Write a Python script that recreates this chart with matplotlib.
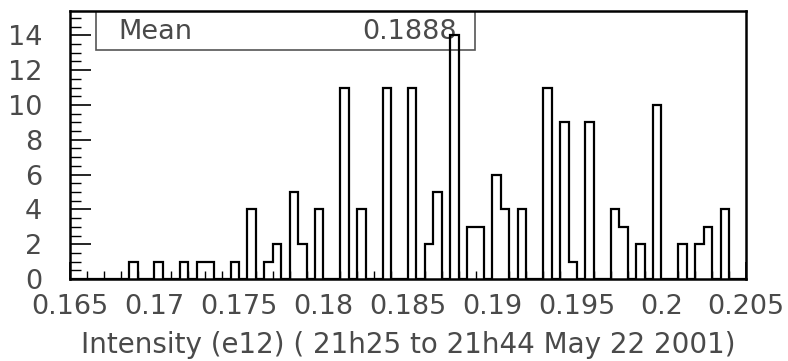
#histogram of beam intensity, ROOT style outline
import numpy as np
import matplotlib
matplotlib.use('Agg')
import matplotlib.pyplot as plt
from matplotlib.ticker import MultipleLocator, FixedLocator
from matplotlib.patches import Rectangle

x_min, x_max = 0.165, 0.205
n_bins = 80

#bin contents, 10 bins per row
counts = [0, 0, 0, 0, 0, 0, 0, 1, 0, 0,
          1, 0, 0, 1, 0, 1, 1, 0, 0, 1,
          0, 4, 0, 1, 2, 0, 5, 2, 0, 4,
          0, 0, 11, 0, 4, 0, 0, 11, 0, 0,
          11, 0, 2, 5, 0, 14, 0, 3, 3, 0,
          6, 4, 0, 4, 0, 0, 11, 0, 9, 1,
          0, 9, 0, 0, 4, 3, 0, 2, 0, 10,
          0, 0, 2, 0, 2, 3, 0, 4, 0, 0]

x_ticks = [0.165, 0.17, 0.175, 0.18, 0.185, 0.19, 0.195, 0.2, 0.205]
x_ticklabels = ['0.165', '0.17', '0.175', '0.18', '0.185', '0.19', '0.195', '0.2', '0.205']
y_ticks = [0, 2, 4, 6, 8, 10, 12, 14]
x_label = 'Intensity (e12) ( 21h25 to 21h44 May 22 2001)'
mean_text = '0.1888'

plt.rcParams['font.family'] = ['DejaVu Sans']
fs = 19.5
txt_col = '#4a4a4a'

edges = np.linspace(x_min, x_max, n_bins + 1)

fig = plt.figure(figsize=(7.88, 3.61), dpi=100)
ax = fig.add_axes([0.0888, 0.2271, 0.8579, 0.7424])

ax.stairs(counts, edges, color='black', linewidth=1.6, zorder=3)

ax.set_xlim(x_min, x_max)
ax.set_ylim(0, 15.4)

ax.xaxis.set_major_locator(FixedLocator(x_ticks))
ax.set_xticklabels(x_ticklabels)
ax.xaxis.set_minor_locator(MultipleLocator(0.001))
ax.yaxis.set_major_locator(FixedLocator(y_ticks))
ax.yaxis.set_minor_locator(MultipleLocator(0.5))

ax.tick_params(axis='both', which='both', direction='in', color='black', labelsize=fs, labelcolor=txt_col)
ax.tick_params(axis='x', which='major', length=12, width=1.2, pad=11)
ax.tick_params(axis='x', which='minor', length=6, width=1.0)
ax.tick_params(axis='y', which='major', length=15, width=1.2, pad=20)
ax.tick_params(axis='y', which='minor', length=8, width=1.0)
ax.tick_params(top=False, right=False)

for s in ax.spines.values():
    s.set_linewidth(1.8)

ax.set_xlabel(x_label, fontsize=20, color=txt_col, labelpad=8)

#stats box in the top left
box = Rectangle((0.0385, 0.854), 0.56, 0.146, transform=ax.transAxes,
                fill=False, edgecolor='#555555', linewidth=1.2, zorder=2)
ax.add_patch(box)
ax.text(0.071, 0.922, 'Mean', transform=ax.transAxes, fontsize=fs,
        color=txt_col, va='center', ha='left', zorder=2)
ax.text(0.573, 0.922, mean_text, transform=ax.transAxes, fontsize=fs,
        color=txt_col, va='center', ha='right', zorder=2)

fig.savefig('out.png', dpi=100)
